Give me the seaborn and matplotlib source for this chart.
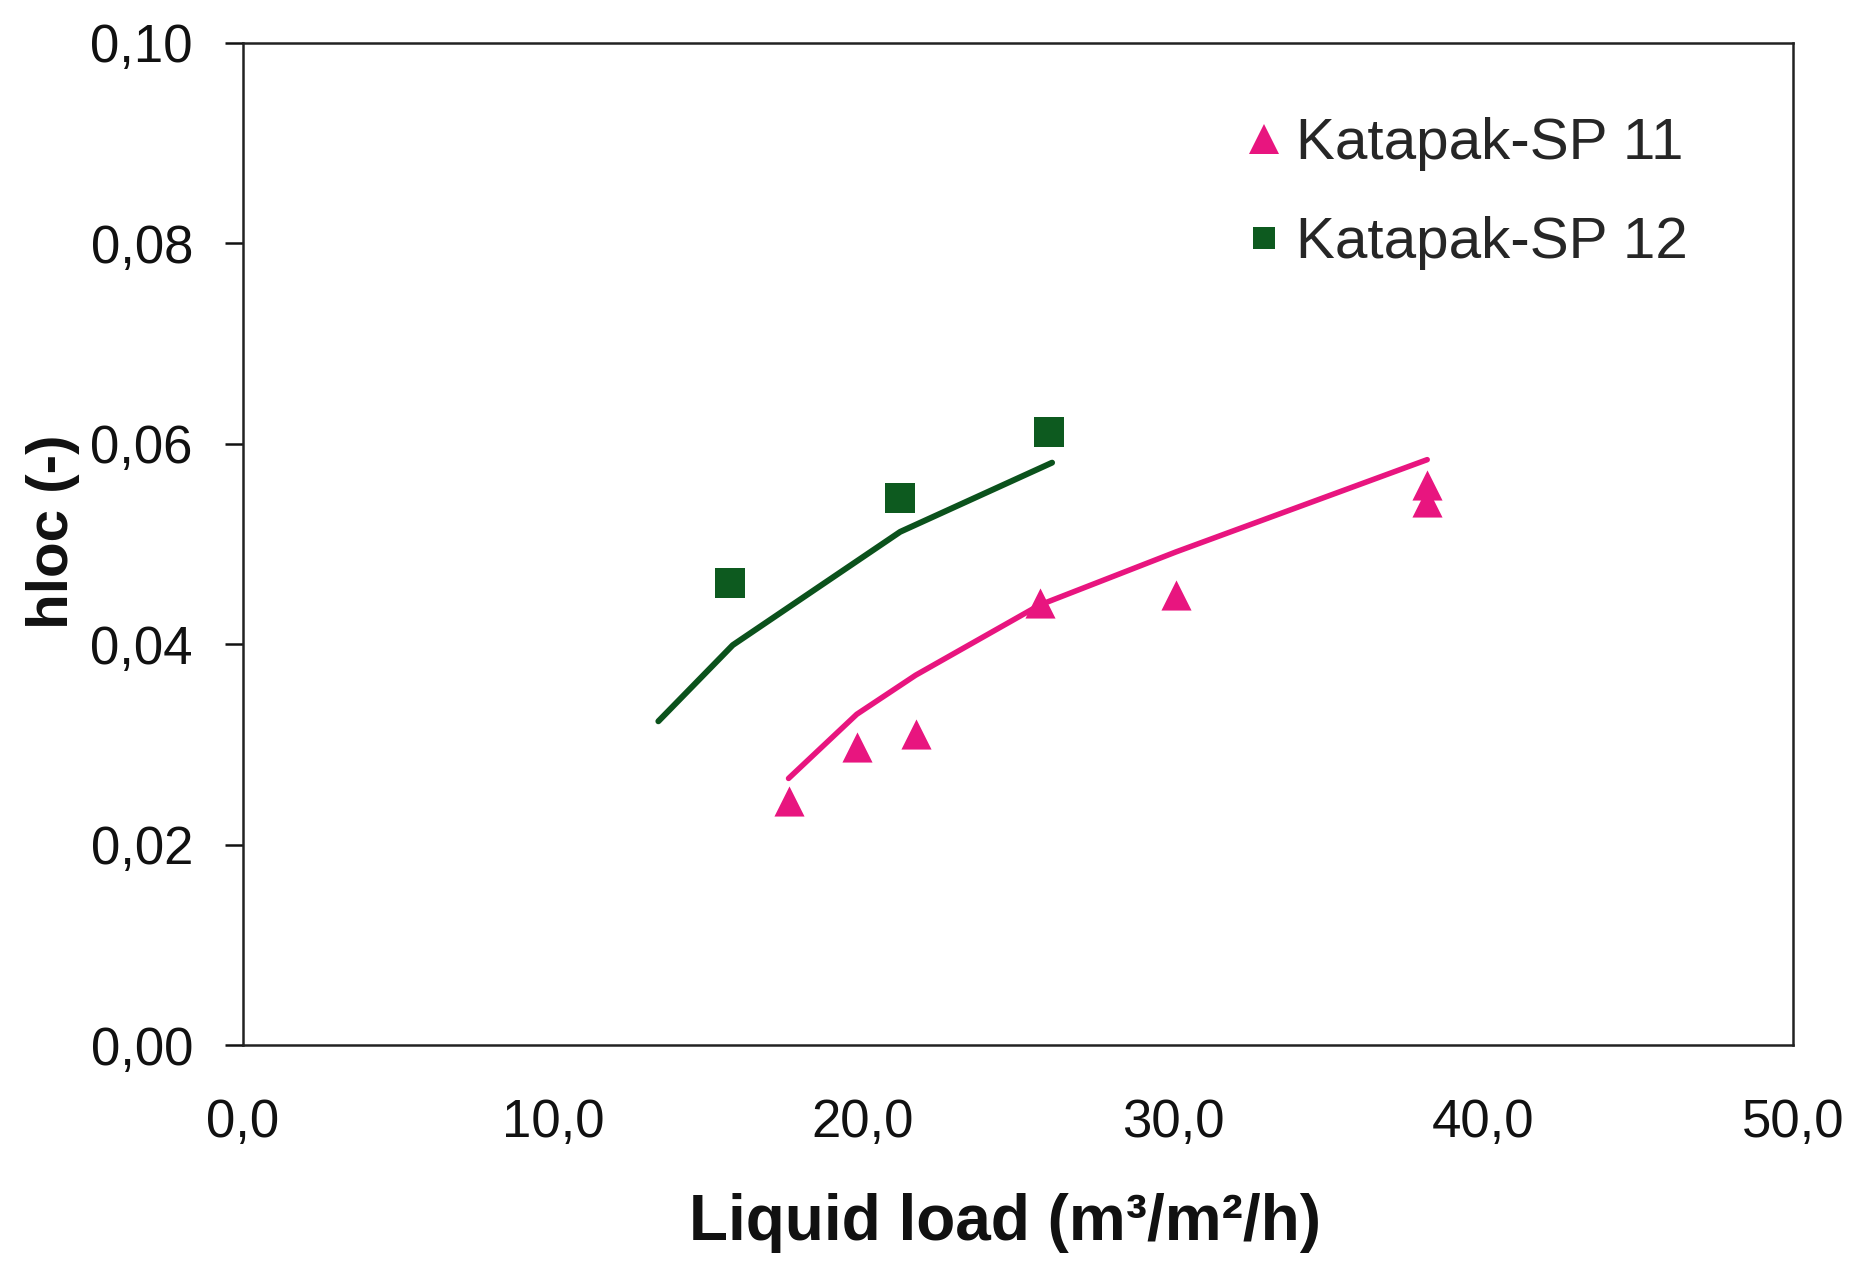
import matplotlib
matplotlib.use("Agg")
import matplotlib.pyplot as plt
from matplotlib.lines import Line2D
from matplotlib.ticker import FixedLocator, FuncFormatter
import seaborn as sns
import pandas as pd

# ---- data ----
sp11_x = [17.6, 19.8, 21.7, 25.7, 30.1, 38.2, 38.2]
sp11_y = [0.0243, 0.0297, 0.0310, 0.0441, 0.0449, 0.0559, 0.0542]
sp11_model_x = [17.6, 19.8, 21.7, 25.7, 30.1, 38.2]
sp11_model_y = [0.0266, 0.0330, 0.0369, 0.0439, 0.0492, 0.0584]

sp12_x = [15.7, 21.2, 26.0]
sp12_y = [0.0461, 0.0546, 0.0612]
sp12_model_x = [13.4, 15.8, 21.2, 26.1]
sp12_model_y = [0.0323, 0.0399, 0.0512, 0.0581]

labels = ["Katapak-SP 11", "Katapak-SP 12"]
x_ticks = [0, 10, 20, 30, 40, 50]
y_ticks = [0.00, 0.02, 0.04, 0.06, 0.08, 0.10]
x_label = "Liquid load (m³/m²/h)"
y_label = "hloc (-)"

pink = "#E8157F"
green = "#0D5A1F"
green_line = "#0B521C"

sns.set_theme(style="white")
plt.rcParams["font.family"] = ["Liberation Sans", "DejaVu Sans"]

fig = plt.figure(figsize=(18.73, 12.62), dpi=100)
ax = fig.add_axes([0.1297, 0.1719, 0.8276, 0.7943])

df11m = pd.DataFrame({"x": sp11_model_x, "y": sp11_model_y})
df12m = pd.DataFrame({"x": sp12_model_x, "y": sp12_model_y})
df11 = pd.DataFrame({"x": sp11_x, "y": sp11_y})
df12 = pd.DataFrame({"x": sp12_x, "y": sp12_y})

sns.lineplot(data=df12m, x="x", y="y", ax=ax, color=green_line, linewidth=4.3,
             sort=False, estimator=None, legend=False)
sns.lineplot(data=df11m, x="x", y="y", ax=ax, color=pink, linewidth=4.0,
             sort=False, estimator=None, legend=False)
sns.scatterplot(data=df11, x="x", y="y", ax=ax, marker="^", s=470, color=pink,
                linewidth=0, legend=False, zorder=3)
sns.scatterplot(data=df12, x="x", y="y", ax=ax, marker="s", s=440, color=green,
                linewidth=0, legend=False, zorder=3)

ax.set_xlim(0, 50)
ax.set_ylim(0, 0.10)
ax.xaxis.set_major_locator(FixedLocator(x_ticks))
ax.yaxis.set_major_locator(FixedLocator(y_ticks))
ax.xaxis.set_major_formatter(FuncFormatter(lambda v, p: f"{v:.1f}".replace(".", ",")))
ax.yaxis.set_major_formatter(FuncFormatter(lambda v, p: f"{v:.2f}".replace(".", ",")))

ax.tick_params(axis="x", length=0, pad=38, labelsize=38, colors="#111111")
ax.tick_params(axis="y", length=13, width=1.8, direction="out", pad=23,
               labelsize=38, colors="#111111", left=True)
for sp in ax.spines.values():
    sp.set_visible(True)
    sp.set_color("#222222")
    sp.set_linewidth(1.8)

ax.set_xlabel(x_label, fontsize=46, fontweight="bold", color="#111111")
ax.set_ylabel(y_label, fontsize=42, fontweight="bold", color="#111111")
ax.xaxis.set_label_coords(0.4916, -0.148)
ax.yaxis.set_label_coords(-0.105, 0.512)

handles = [
    Line2D([], [], linestyle="none", marker="^", markersize=21.6, color=pink, markeredgewidth=0),
    Line2D([], [], linestyle="none", marker="s", markersize=16.5, color=green, markeredgewidth=0),
]
ax.legend(handles, labels, loc="upper left", bbox_to_anchor=(0.6474, 0.9258),
          frameon=False, fontsize=42, borderpad=0, borderaxespad=0,
          handlelength=0.6, handletextpad=0.25, labelspacing=0.77)

fig.savefig("out.png", dpi=100)
